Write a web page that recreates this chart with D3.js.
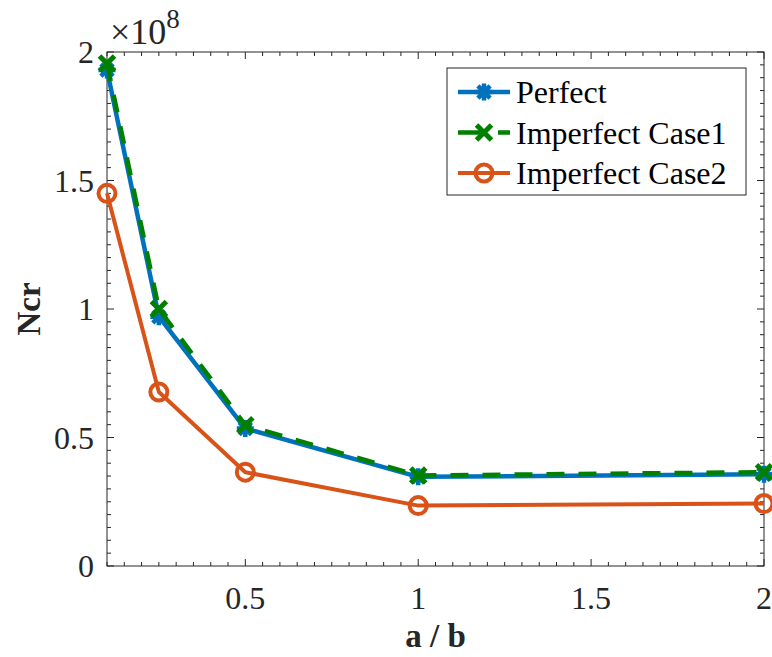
<!DOCTYPE html>
<html>
<head>
<meta charset="utf-8">
<script src="https://cdn.jsdelivr.net/npm/d3@7/dist/d3.min.js"></script>
<style>
  body { margin: 0; background: #fff; }
  svg { display: block; }
</style>
</head>
<body>
<svg id="chart" width="772" height="657"></svg>
<script>
const ratios = [0.1, 0.25, 0.5, 1, 2];
const perfect = [1.93, 0.97, 0.535, 0.347, 0.357];
const imperfect1 = [1.955, 1.0, 0.548, 0.352, 0.365];
const imperfect2 = [1.45, 0.677, 0.365, 0.235, 0.243];
const xTicks = [0.5, 1, 1.5, 2];
const yTicks = [0, 0.5, 1, 1.5, 2];
const seriesNames = ["Perfect", "Imperfect Case1", "Imperfect Case2"];

const font = "'Liberation Serif', 'Times New Roman', serif";
const axisColor = "#262626";

const svg = d3.select("#chart");
const plotL = 107, plotR = 764, plotT = 52, plotB = 566;

const x = d3.scaleLinear().domain([0.1, 2]).range([plotL, plotR]);
const y = d3.scaleLinear().domain([0, 2]).range([plotB, plotT]);

const xMinor = d3.range(0.1, 2.0001, 0.05);
const yMinor = d3.range(0, 2.0001, 0.05);

// minor + major ticks on all four sides
const ticks = svg.append("g").attr("stroke", axisColor).attr("stroke-width", 1);
xMinor.forEach((v) => {
  const major = xTicks.some((t) => Math.abs(t - v) < 1e-6);
  const len = major ? 7 : 4;
  ticks.append("line").attr("x1", x(v)).attr("x2", x(v)).attr("y1", plotB).attr("y2", plotB - len);
  ticks.append("line").attr("x1", x(v)).attr("x2", x(v)).attr("y1", plotT).attr("y2", plotT + len);
});
yMinor.forEach((v) => {
  const major = yTicks.some((t) => Math.abs(t - v) < 1e-6);
  const len = major ? 7 : 4;
  ticks.append("line").attr("y1", y(v)).attr("y2", y(v)).attr("x1", plotL).attr("x2", plotL + len);
  ticks.append("line").attr("y1", y(v)).attr("y2", y(v)).attr("x1", plotR).attr("x2", plotR - len);
});

svg.append("rect")
  .attr("x", plotL).attr("y", plotT)
  .attr("width", plotR - plotL).attr("height", plotB - plotT)
  .attr("fill", "none").attr("stroke", axisColor).attr("stroke-width", 1);

// tick labels
svg.append("g").selectAll("text").data(xTicks).enter().append("text")
  .attr("x", (d) => x(d)).attr("y", plotB + 43)
  .attr("text-anchor", "middle")
  .attr("font-family", font).attr("font-size", 32).attr("fill", axisColor)
  .text((d) => d);

svg.append("g").selectAll("text").data(yTicks).enter().append("text")
  .attr("x", plotL - 13).attr("y", (d) => y(d) + 11)
  .attr("text-anchor", "end")
  .attr("font-family", font).attr("font-size", 32).attr("fill", axisColor)
  .text((d) => d);

// exponent label
const expo = svg.append("text")
  .attr("x", plotL + 3).attr("y", plotT - 8)
  .attr("font-family", font).attr("font-size", 36).attr("fill", axisColor);
expo.append("tspan").text("\u00d710");
expo.append("tspan").attr("dy", -16).attr("font-size", 27).text("8");

// axis titles
svg.append("text")
  .attr("x", (plotL + plotR) / 2).attr("y", 647)
  .attr("text-anchor", "middle")
  .attr("font-family", font).attr("font-size", 33).attr("font-weight", "bold")
  .attr("fill", axisColor)
  .text("a / b");

svg.append("text")
  .attr("transform", `translate(40, ${(plotT + plotB) / 2}) rotate(-90)`)
  .attr("text-anchor", "middle")
  .attr("font-family", font).attr("font-size", 33).attr("font-weight", "bold")
  .attr("fill", axisColor)
  .text("Ncr");

// series
const series = [
  { name: seriesNames[0], values: perfect, color: "#0072BD", width: 4.5, dash: null, marker: "star" },
  { name: seriesNames[1], values: imperfect1, color: "#008000", width: 4.5, dash: "18,14", marker: "x" },
  { name: seriesNames[2], values: imperfect2, color: "#D95319", width: 4, dash: null, marker: "o" },
];

const line = d3.line().x((d) => x(d[0])).y((d) => y(d[1]));

function drawMarker(g, type, cx, cy, color) {
  if (type === "star") {
    const r = 8.5;
    const p = `M${cx - r},${cy}L${cx + r},${cy}M${cx},${cy - r}L${cx},${cy + r}` +
      `M${cx - r * 0.72},${cy - r * 0.72}L${cx + r * 0.72},${cy + r * 0.72}` +
      `M${cx - r * 0.72},${cy + r * 0.72}L${cx + r * 0.72},${cy - r * 0.72}`;
    g.append("path").attr("d", p).attr("stroke", color).attr("stroke-width", 4.5).attr("fill", "none");
  } else if (type === "x") {
    const r = 7.5;
    const p = `M${cx - r},${cy - r}L${cx + r},${cy + r}M${cx - r},${cy + r}L${cx + r},${cy - r}`;
    g.append("path").attr("d", p).attr("stroke", color).attr("stroke-width", 5).attr("fill", "none");
  } else {
    g.append("circle").attr("cx", cx).attr("cy", cy).attr("r", 8.5)
      .attr("stroke", color).attr("stroke-width", 4).attr("fill", "none");
  }
}

series.forEach((s) => {
  const g = svg.append("g");
  const pts = ratios.map((r, i) => [r, s.values[i]]);
  g.append("path")
    .datum(pts)
    .attr("d", line)
    .attr("fill", "none")
    .attr("stroke", s.color)
    .attr("stroke-width", s.width)
    .attr("stroke-dasharray", s.dash)
    .attr("stroke-linejoin", "round");
  pts.forEach((p) => drawMarker(g, s.marker, x(p[0]), y(p[1]), s.color));
});

// legend
const legend = svg.append("g");
legend.append("rect")
  .attr("x", 447).attr("y", 68).attr("width", 299).attr("height", 127)
  .attr("fill", "#fff").attr("stroke", axisColor).attr("stroke-width", 1);

series.forEach((s, i) => {
  const ly = 92 + i * 40.5;
  legend.append("line")
    .attr("x1", 458).attr("x2", 510).attr("y1", ly).attr("y2", ly)
    .attr("stroke", s.color).attr("stroke-width", s.width)
    .attr("stroke-dasharray", s.dash ? "26,14,12" : null);
  drawMarker(legend, s.marker, 484, ly, s.color);
  legend.append("text")
    .attr("x", 516).attr("y", ly + 11)
    .attr("font-family", font).attr("font-size", 32).attr("fill", "#000")
    .text(s.name);
});
</script>
</body>
</html>
